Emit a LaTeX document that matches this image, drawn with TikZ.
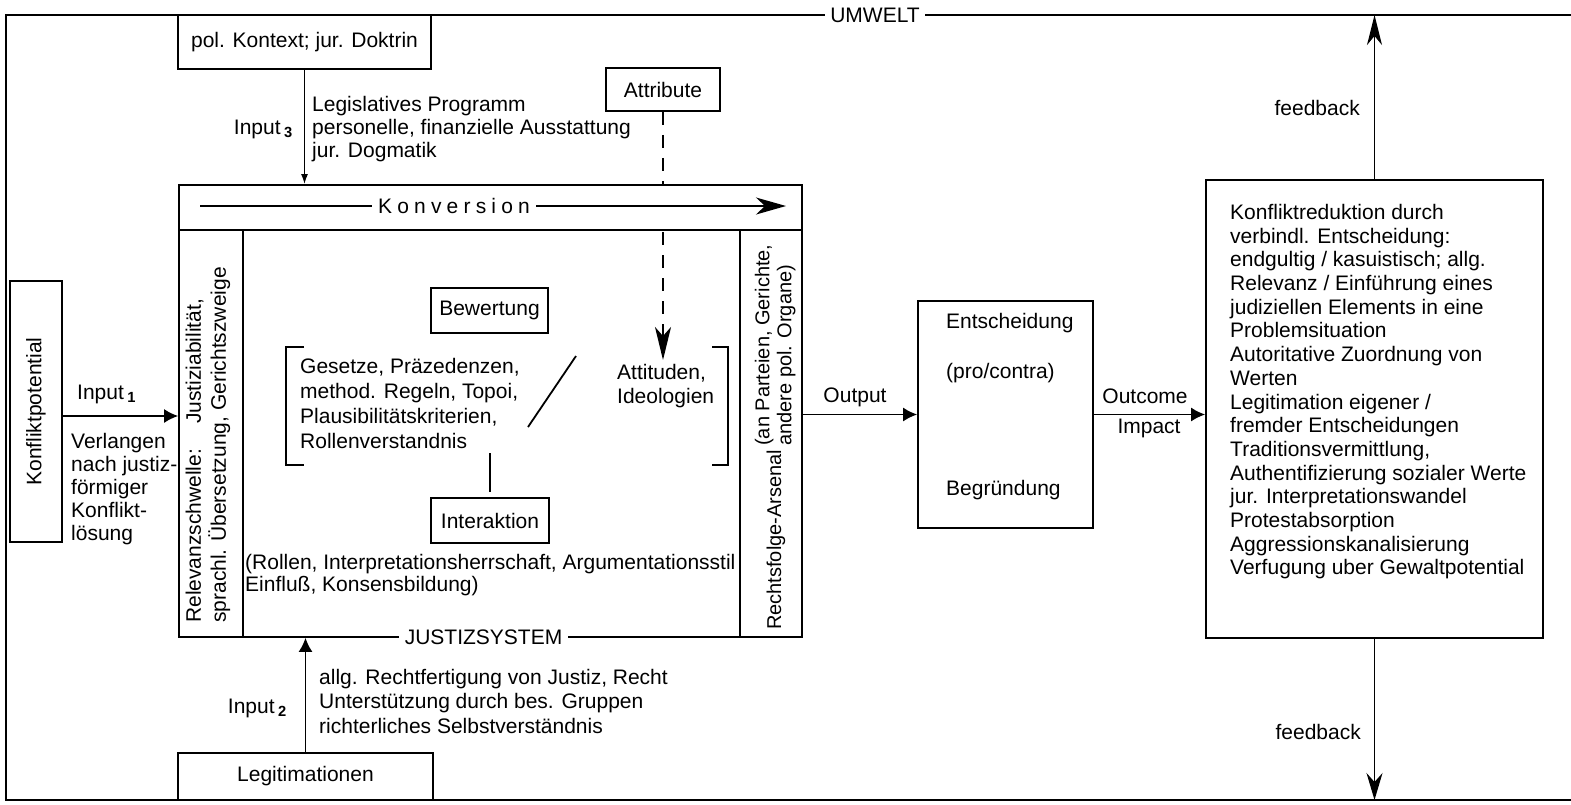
\documentclass[tikz,border=0pt]{standalone}
\usepackage{fontspec}
\setmainfont{Liberation Sans}
\usetikzlibrary{arrows.meta}
\newcommand\lsp{\kern5.2pt}
\begin{document}
\begin{tikzpicture}[x=1pt,y=-1pt,
  every node/.style={font=\fontsize{21}{23.5}\selectfont},
  box/.style={draw,line width=1.8pt,inner sep=0},
  lbl/.style={inner sep=0},
  blk/.style={inner sep=0,anchor=north west,align=left},
  conn/.style={line width=1.5pt},
  tip/.style={-{Latex[length=14pt,width=14pt]}},
  dsh/.style={line width=2.4pt,dash pattern=on 13pt off 10pt},
  frame/.style={line width=2.6pt},
  wall/.style={line width=1.8pt}
]
\useasboundingbox[fill=white] (0,0) rectangle (1571,804);
% environment frame
\draw[frame] (1571,15) -- (6,15) -- (6,800) -- (1571,800);
\node[lbl,fill=white,inner xsep=5pt,inner ysep=2pt] (umw) at (875,15) {UMWELT};

% top inputs
\node[box,minimum width=253pt,minimum height=54pt,fill=white] (pol) at (304.5,42) {pol. Kontext; jur. Doktrin};
\node[box,minimum width=114pt,minimum height=43pt] (attr) at (663,89.5) {Attribute};

% justice system box
\node[box,minimum width=623pt,minimum height=452pt] (js) at (490.5,411) {};
\draw[wall] (js.west |- 0,230) -- (js.east |- 0,230);
\draw[wall] (243,230) -- (243,637);
\draw[wall] (740,230) -- (740,637);
\node[lbl,fill=white,inner xsep=6pt,inner ysep=3pt] (jsl) at (483.5,637) {JUSTIZSYSTEM};

% Konversion
\coordinate (kvs) at (200,206);
\coordinate (kve) at (786,206);
\draw[conn,-{Stealth[length=30pt,width=17pt,inset=9pt]}] (kvs) -- (kve);
\node[lbl,fill=white,inner xsep=6pt,inner ysep=2pt] (kv) at (454,206) {K\lsp o\lsp n\lsp v\lsp e\lsp r\lsp s\lsp i\lsp o\lsp n};

% Input 3
\draw[conn,-{Latex[length=10pt,width=7pt]}] (pol.south) -- (pol.south |- js.north);
\node[lbl,anchor=base east] (in3) at (293,134) {Input\,\textsubscript{\bfseries 3}};
\node[blk,font=\fontsize{21}{23}\selectfont] (leg) at (312,96) {Legislatives Programm\\personelle, finanzielle Ausstattung\\jur. Dogmatik};

% dashed attribute line
\coordinate (da) at (663,232);
\coordinate (db) at (663,360);
\draw[dsh] (attr.south) -- (attr.south |- js.north);
\draw[dsh,-{Stealth[length=33pt,width=16pt,inset=9pt]}] (da) -- (db);

% left column
\node[lbl,rotate=90,anchor=west,align=left,font=\fontsize{21}{25}\selectfont] (rel) at (208,623) {Relevanzschwelle:\hspace{25pt}Justiziabilität,\\sprachl. Übersetzung, Gerichtszweige};

% right column
\node[lbl,rotate=90,anchor=west,font=\fontsize{20}{22}\selectfont] (rfa) at (776,630) {Rechtsfolge-Arsenal\hspace{4pt}\begin{tabular}[c]{@{}l@{}}(an Parteien, Gerichte,\\andere pol. Organe)\end{tabular}};

% inner content
\node[box,minimum width=117pt,minimum height=45pt] (bew) at (489.5,310.5) {Bewertung};
\node[box,minimum width=118pt,minimum height=45pt] (int) at (490,520.5) {Interaktion};
\node[blk,font=\fontsize{21}{25}\selectfont] (ges) at (300,358) {Gesetze, Präzedenzen,\\method. Regeln, Topoi,\\Plausibilitätskriterien,\\Rollenverstandnis};
\node[blk,font=\fontsize{21}{24}\selectfont] (att) at (617,364) {Attituden,\\Ideologien};
\node[blk,font=\fontsize{21}{22}\selectfont] (rol) at (245,554) {(Rollen, Interpretationsherrschaft, Argumentationsstil\\Einfluß, Konsensbildung)};
\draw[wall] (304,347) -- (286,347) -- (286,465) -- (304,465);
\draw[wall] (712,347) -- (728,347) -- (728,465) -- (712,465);
\draw[wall] (528,427) -- (576,356);
\coordinate (gesb) at (492,453);
\draw[wall] (int.north |- gesb) -- ([yshift=5pt]int.north);

% Konfliktpotential and Input 1
\node[box,rotate=90,minimum width=261pt,minimum height=52pt] (kp) at (36,411.5) {Konfliktpotential};
\draw[conn,tip] (kp.south |- 0,416) -- (js.west |- 0,416);
\node[lbl,anchor=base west] (in1) at (77,399) {Input\,\textsubscript{\bfseries 1}};
\node[blk,font=\fontsize{21}{23}\selectfont] (verl) at (71,433) {Verlangen\\nach justiz-\\förmiger\\Konflikt-\\lösung};

% Input 2
\node[box,minimum width=255pt,minimum height=47pt,fill=white] (lgt) at (305.5,776.5) {Legitimationen};
\draw[conn,tip] (lgt.north) -- (lgt.north |- js.south);
\node[lbl,anchor=base east] (in2) at (287,713) {Input\,\textsubscript{\bfseries 2}};
\node[blk,font=\fontsize{21}{24.5}\selectfont] (rf) at (319,669) {allg. Rechtfertigung von Justiz, Recht\\Unterstützung durch bes. Gruppen\\richterliches Selbstverständnis};

% Entscheidung
\node[box,minimum width=175pt,minimum height=227pt] (ent) at (1005.5,414.5) {};
\node[lbl,anchor=west] (e1) at (946,323) {Entscheidung};
\node[lbl,anchor=west] (e2) at (946,373) {(pro/contra)};
\node[lbl,anchor=west] (e3) at (946,490) {Begründung};
\draw[conn,tip] (js.east |- ent.west) -- (ent.west);
\node[lbl] (outp) at (855,397) {Output};

% result box
\node[box,minimum width=337pt,minimum height=458pt] (res) at (1374.5,409) {};
\draw[conn,tip] (ent.east) -- (res.west |- ent.east);
\node[lbl] (oc) at (1145,396) {Outcome};
\node[lbl] (imp) at (1149,428) {Impact};
\node[blk,font=\fontsize{21}{23.7}\selectfont] (restxt) at (1230,204) {Konfliktreduktion durch\\verbindl. Entscheidung:\\endgultig / kasuistisch; allg.\\Relevanz / Einführung eines\\judiziellen Elements in eine\\Problemsituation\\Autoritative Zuordnung von\\Werten\\Legitimation eigener /\\fremder Entscheidungen\\Traditionsvermittlung,\\Authentifizierung sozialer Werte\\jur. Interpretationswandel\\Protestabsorption\\Aggressionskanalisierung\\Verfugung uber Gewaltpotential};

% feedback
\coordinate (fbt) at (1374.5,15);
\coordinate (fbb) at (1374.5,800);
\draw[conn,-{Stealth[length=30pt,width=15pt,inset=9pt]}] (res.north) -- (fbt);
\draw[conn,-{Stealth[length=27pt,width=16pt,inset=9pt]}] (res.south) -- (fbb);
\node[lbl,anchor=east] (fb1) at (1360,108) {feedback};
\node[lbl,anchor=east] (fb2) at (1361,732) {feedback};
\end{tikzpicture}
\end{document}
